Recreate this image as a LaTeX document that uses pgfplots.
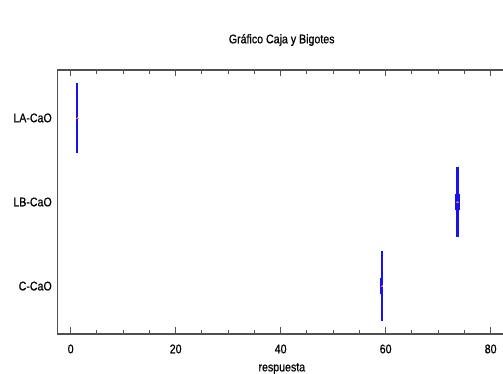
\documentclass[border=0pt]{standalone}
\usepackage{fontspec}
\setmainfont[FakeStretch=0.85,FakeBold=0.8]{Liberation Sans}
\usepackage{pgfplots}
\pgfplotsset{compat=1.18}
\usepgfplotslibrary{statistics}
\definecolor{boxblue}{RGB}{20,20,235}
\definecolor{axgray}{RGB}{80,80,80}
\begin{document}
\begin{tikzpicture}
\begin{axis}[
  at={(57.3pt,40pt)}, anchor=south west,
  scale only axis,
  width=449.1pt, height=264pt,
  xmin=-2.55, xmax=83,
  ymin=0.43, ymax=3.57,
  xtick={0,20,40,60,80},
  minor x tick num=3,
  ytick={1,2,3},
  yticklabels={C-CaO,LB-CaO,LA-CaO},
  ytick style={draw=none},
  xtick pos=both,
  ytick pos=left,
  tick align=inside,
  major tick length=6.5pt,
  minor tick length=4pt,
  every tick/.style={axgray, line width=1pt},
  axis line style={axgray, line width=1.3pt},
  /pgf/number format/assume math mode=true,
  tick label style={font=\fontsize{12.5}{14}\selectfont, black},
  xticklabel style={yshift=-7pt},
  yticklabel style={xshift=-2pt},
  xlabel={respuesta},
  xlabel style={font=\fontsize{12.5}{14}\selectfont, yshift=-3pt},
  boxplot/draw direction=x,
  boxplot/box extend=0.82,
  boxplot/whisker extend=0.2,
  clip=false,
]
\addplot[draw=boxblue, fill=boxblue, line width=0.8pt, boxplot prepared={
  lower whisker=1.1, lower quartile=1.15, median=1.2,
  upper quartile=1.25, upper whisker=1.3, draw position=3}]
  coordinates {};
\addplot[draw=boxblue, fill=boxblue, line width=0.8pt, boxplot prepared={
  lower whisker=73.35, lower quartile=73.55, median=73.7,
  upper quartile=73.85, upper whisker=74.1, draw position=2}]
  coordinates {};
\addplot[draw=boxblue, fill=boxblue, line width=0.8pt, boxplot prepared={
  lower whisker=59.05, lower quartile=59.1, median=59.2,
  upper quartile=59.3, upper whisker=59.35, draw position=1}]
  coordinates {};
\addplot[only marks, mark=+, mark size=1.3pt, color=red!60!orange!70, line width=0.4pt]
  coordinates {(1.3,3) (73.7,2) (59.3,1)};
\end{axis}
\node[font=\fontsize{12.5}{14}\selectfont] at (281.7pt,334pt) {Gráfico Caja y Bigotes};
\pgfresetboundingbox
\path[use as bounding box] (0,0) rectangle (503pt,374pt);
\end{tikzpicture}
\end{document}
